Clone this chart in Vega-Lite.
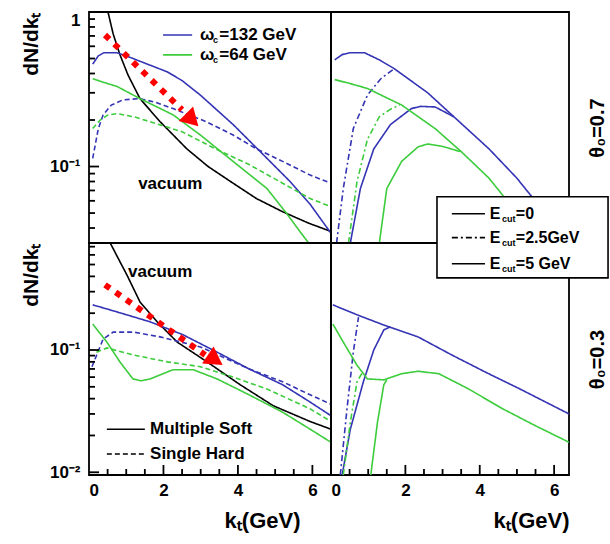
{
"$schema":"https://vega.github.io/schema/vega-lite/v6.json",
"padding":{"left":19,"top":10,"right":2,"bottom":2},
"config":{"font":"Liberation Sans","view":{"stroke":"black","strokeWidth":1.8},
"axis":{"grid":false,"domain":false,"ticks":false,"labelColor":"black","titleColor":"black","labelFontSize":17,"labelFontWeight":"bold","titleFontSize":21,"titleFontWeight":"bold"},
"text":{"fontWeight":"bold"}},
"datasets":{
"curves":[
{"panel":"TL","omega":"vac","type":"soft","kt":0.51,"y":1.0},{"panel":"TL","omega":"vac","type":"soft","kt":0.65,"y":0.72},{"panel":"TL","omega":"vac","type":"soft","kt":0.83,"y":0.53},{"panel":"TL","omega":"vac","type":"soft","kt":1.05,"y":0.39},{"panel":"TL","omega":"vac","type":"soft","kt":1.37,"y":0.275},{"panel":"TL","omega":"vac","type":"soft","kt":1.91,"y":0.195},{"panel":"TL","omega":"vac","type":"soft","kt":2.63,"y":0.13},{"panel":"TL","omega":"vac","type":"soft","kt":3.2,"y":0.1},{"panel":"TL","omega":"vac","type":"soft","kt":3.87,"y":0.078},{"panel":"TL","omega":"vac","type":"soft","kt":4.5,"y":0.062},{"panel":"TL","omega":"vac","type":"soft","kt":5.2,"y":0.051},{"panel":"TL","omega":"vac","type":"soft","kt":5.9,"y":0.043},{"panel":"TL","omega":"vac","type":"soft","kt":6.5,"y":0.038},
{"panel":"TL","omega":"132","type":"soft","kt":0.1,"y":0.46},{"panel":"TL","omega":"132","type":"soft","kt":0.25,"y":0.52},{"panel":"TL","omega":"132","type":"soft","kt":0.4,"y":0.545},{"panel":"TL","omega":"132","type":"soft","kt":0.75,"y":0.545},{"panel":"TL","omega":"132","type":"soft","kt":1.0,"y":0.52},{"panel":"TL","omega":"132","type":"soft","kt":1.37,"y":0.48},{"panel":"TL","omega":"132","type":"soft","kt":2.1,"y":0.41},{"panel":"TL","omega":"132","type":"soft","kt":2.5,"y":0.36},{"panel":"TL","omega":"132","type":"soft","kt":2.99,"y":0.29},{"panel":"TL","omega":"132","type":"soft","kt":3.87,"y":0.187},{"panel":"TL","omega":"132","type":"soft","kt":4.78,"y":0.113},{"panel":"TL","omega":"132","type":"soft","kt":5.4,"y":0.08},{"panel":"TL","omega":"132","type":"soft","kt":5.94,"y":0.057},{"panel":"TL","omega":"132","type":"soft","kt":6.5,"y":0.037},
{"panel":"TL","omega":"132","type":"hard","kt":0.1,"y":0.113},{"panel":"TL","omega":"132","type":"hard","kt":0.25,"y":0.176},{"panel":"TL","omega":"132","type":"hard","kt":0.38,"y":0.216},{"panel":"TL","omega":"132","type":"hard","kt":0.6,"y":0.25},{"panel":"TL","omega":"132","type":"hard","kt":0.91,"y":0.27},{"panel":"TL","omega":"132","type":"hard","kt":1.37,"y":0.275},{"panel":"TL","omega":"132","type":"hard","kt":1.8,"y":0.26},{"panel":"TL","omega":"132","type":"hard","kt":2.26,"y":0.237},{"panel":"TL","omega":"132","type":"hard","kt":3.15,"y":0.195},{"panel":"TL","omega":"132","type":"hard","kt":3.87,"y":0.16},{"panel":"TL","omega":"132","type":"hard","kt":4.5,"y":0.13},{"panel":"TL","omega":"132","type":"hard","kt":5.2,"y":0.108},{"panel":"TL","omega":"132","type":"hard","kt":5.94,"y":0.088},{"panel":"TL","omega":"132","type":"hard","kt":6.5,"y":0.078},
{"panel":"TL","omega":"64","type":"soft","kt":0.1,"y":0.37},{"panel":"TL","omega":"64","type":"soft","kt":0.4,"y":0.35},{"panel":"TL","omega":"64","type":"soft","kt":0.75,"y":0.33},{"panel":"TL","omega":"64","type":"soft","kt":1.37,"y":0.275},{"panel":"TL","omega":"64","type":"soft","kt":2.26,"y":0.216},{"panel":"TL","omega":"64","type":"soft","kt":2.99,"y":0.16},{"panel":"TL","omega":"64","type":"soft","kt":3.87,"y":0.108},{"panel":"TL","omega":"64","type":"soft","kt":4.78,"y":0.072},{"panel":"TL","omega":"64","type":"soft","kt":5.3,"y":0.05},{"panel":"TL","omega":"64","type":"soft","kt":5.7,"y":0.037},{"panel":"TL","omega":"64","type":"soft","kt":5.9,"y":0.032},
{"panel":"TL","omega":"64","type":"hard","kt":0.1,"y":0.176},{"panel":"TL","omega":"64","type":"hard","kt":0.3,"y":0.2},{"panel":"TL","omega":"64","type":"hard","kt":0.5,"y":0.215},{"panel":"TL","omega":"64","type":"hard","kt":0.75,"y":0.22},{"panel":"TL","omega":"64","type":"hard","kt":1.2,"y":0.21},{"panel":"TL","omega":"64","type":"hard","kt":1.64,"y":0.195},{"panel":"TL","omega":"64","type":"hard","kt":2.5,"y":0.168},{"panel":"TL","omega":"64","type":"hard","kt":3.4,"y":0.13},{"panel":"TL","omega":"64","type":"hard","kt":4.3,"y":0.103},{"panel":"TL","omega":"64","type":"hard","kt":5.2,"y":0.078},{"panel":"TL","omega":"64","type":"hard","kt":5.94,"y":0.062},{"panel":"TL","omega":"64","type":"hard","kt":6.5,"y":0.055},
{"panel":"TR","omega":"132","type":"E0","kt":0.1,"y":0.49},{"panel":"TR","omega":"132","type":"E0","kt":0.3,"y":0.53},{"panel":"TR","omega":"132","type":"E0","kt":0.5,"y":0.545},{"panel":"TR","omega":"132","type":"E0","kt":0.9,"y":0.545},{"panel":"TR","omega":"132","type":"E0","kt":1.3,"y":0.49},{"panel":"TR","omega":"132","type":"E0","kt":1.7,"y":0.43},{"panel":"TR","omega":"132","type":"E0","kt":2.6,"y":0.3},{"panel":"TR","omega":"132","type":"E0","kt":3.4,"y":0.2},{"panel":"TR","omega":"132","type":"E0","kt":4.25,"y":0.13},{"panel":"TR","omega":"132","type":"E0","kt":5.0,"y":0.084},{"panel":"TR","omega":"132","type":"E0","kt":5.35,"y":0.066},{"panel":"TR","omega":"132","type":"E0","kt":5.9,"y":0.046},{"panel":"TR","omega":"132","type":"E0","kt":6.4,"y":0.034},
{"panel":"TR","omega":"132","type":"E25","kt":0.15,"y":0.032},{"panel":"TR","omega":"132","type":"E25","kt":0.33,"y":0.072},{"panel":"TR","omega":"132","type":"E25","kt":0.6,"y":0.176},{"panel":"TR","omega":"132","type":"E25","kt":0.98,"y":0.29},{"panel":"TR","omega":"132","type":"E25","kt":1.34,"y":0.37},{"panel":"TR","omega":"132","type":"E25","kt":1.7,"y":0.43},
{"panel":"TR","omega":"132","type":"E5","kt":0.52,"y":0.032},{"panel":"TR","omega":"132","type":"E5","kt":0.79,"y":0.072},{"panel":"TR","omega":"132","type":"E5","kt":1.15,"y":0.13},{"panel":"TR","omega":"132","type":"E5","kt":1.6,"y":0.187},{"panel":"TR","omega":"132","type":"E5","kt":2.16,"y":0.237},{"panel":"TR","omega":"132","type":"E5","kt":2.4,"y":0.245},{"panel":"TR","omega":"132","type":"E5","kt":2.8,"y":0.243},{"panel":"TR","omega":"132","type":"E5","kt":3.3,"y":0.21},
{"panel":"TR","omega":"64","type":"E0","kt":0.1,"y":0.365},{"panel":"TR","omega":"64","type":"E0","kt":0.5,"y":0.345},{"panel":"TR","omega":"64","type":"E0","kt":0.98,"y":0.32},{"panel":"TR","omega":"64","type":"E0","kt":1.9,"y":0.25},{"panel":"TR","omega":"64","type":"E0","kt":2.8,"y":0.176},{"panel":"TR","omega":"64","type":"E0","kt":3.5,"y":0.125},{"panel":"TR","omega":"64","type":"E0","kt":4.25,"y":0.084},{"panel":"TR","omega":"64","type":"E0","kt":4.6,"y":0.066},{"panel":"TR","omega":"64","type":"E0","kt":5.4,"y":0.038},{"panel":"TR","omega":"64","type":"E0","kt":5.6,"y":0.033},
{"panel":"TR","omega":"64","type":"E25","kt":0.47,"y":0.032},{"panel":"TR","omega":"64","type":"E25","kt":0.7,"y":0.08},{"panel":"TR","omega":"64","type":"E25","kt":0.98,"y":0.15},{"panel":"TR","omega":"64","type":"E25","kt":1.3,"y":0.21},{"panel":"TR","omega":"64","type":"E25","kt":1.6,"y":0.235},{"panel":"TR","omega":"64","type":"E25","kt":1.85,"y":0.25},
{"panel":"TR","omega":"64","type":"E5","kt":1.3,"y":0.032},{"panel":"TR","omega":"64","type":"E5","kt":1.5,"y":0.072},{"panel":"TR","omega":"64","type":"E5","kt":1.9,"y":0.108},{"panel":"TR","omega":"64","type":"E5","kt":2.34,"y":0.134},{"panel":"TR","omega":"64","type":"E5","kt":2.6,"y":0.14},{"panel":"TR","omega":"64","type":"E5","kt":3.0,"y":0.135},{"panel":"TR","omega":"64","type":"E5","kt":3.47,"y":0.125},
{"panel":"BL","omega":"vac","type":"soft","kt":0.57,"y":0.75},{"panel":"BL","omega":"vac","type":"soft","kt":0.8,"y":0.55},{"panel":"BL","omega":"vac","type":"soft","kt":1.02,"y":0.41},{"panel":"BL","omega":"vac","type":"soft","kt":1.37,"y":0.247},{"panel":"BL","omega":"vac","type":"soft","kt":1.83,"y":0.17},{"panel":"BL","omega":"vac","type":"soft","kt":2.37,"y":0.116},{"panel":"BL","omega":"vac","type":"soft","kt":3.17,"y":0.08},{"panel":"BL","omega":"vac","type":"soft","kt":4.06,"y":0.052},{"panel":"BL","omega":"vac","type":"soft","kt":4.95,"y":0.035},{"panel":"BL","omega":"vac","type":"soft","kt":5.94,"y":0.026},{"panel":"BL","omega":"vac","type":"soft","kt":6.5,"y":0.0225},
{"panel":"BL","omega":"132","type":"soft","kt":0.1,"y":0.234},{"panel":"BL","omega":"132","type":"soft","kt":0.75,"y":0.205},{"panel":"BL","omega":"132","type":"soft","kt":1.64,"y":0.17},{"panel":"BL","omega":"132","type":"soft","kt":2.53,"y":0.133},{"panel":"BL","omega":"132","type":"soft","kt":3.44,"y":0.096},{"panel":"BL","omega":"132","type":"soft","kt":4.3,"y":0.07},{"panel":"BL","omega":"132","type":"soft","kt":5.2,"y":0.052},{"panel":"BL","omega":"132","type":"soft","kt":5.94,"y":0.0375},{"panel":"BL","omega":"132","type":"soft","kt":6.5,"y":0.029},
{"panel":"BL","omega":"132","type":"hard","kt":0.08,"y":0.073},{"panel":"BL","omega":"132","type":"hard","kt":0.38,"y":0.123},{"panel":"BL","omega":"132","type":"hard","kt":0.65,"y":0.14},{"panel":"BL","omega":"132","type":"hard","kt":1.2,"y":0.14},{"panel":"BL","omega":"132","type":"hard","kt":1.91,"y":0.128},{"panel":"BL","omega":"132","type":"hard","kt":2.99,"y":0.106},{"panel":"BL","omega":"132","type":"hard","kt":4.3,"y":0.07},{"panel":"BL","omega":"132","type":"hard","kt":5.2,"y":0.055},{"panel":"BL","omega":"132","type":"hard","kt":5.94,"y":0.043},{"panel":"BL","omega":"132","type":"hard","kt":6.5,"y":0.036},
{"panel":"BL","omega":"64","type":"soft","kt":0.1,"y":0.163},{"panel":"BL","omega":"64","type":"soft","kt":0.48,"y":0.116},{"panel":"BL","omega":"64","type":"soft","kt":0.83,"y":0.08},{"panel":"BL","omega":"64","type":"soft","kt":1.18,"y":0.058},{"panel":"BL","omega":"64","type":"soft","kt":1.4,"y":0.056},{"panel":"BL","omega":"64","type":"soft","kt":1.64,"y":0.058},{"panel":"BL","omega":"64","type":"soft","kt":2.26,"y":0.069},{"panel":"BL","omega":"64","type":"soft","kt":2.8,"y":0.069},{"panel":"BL","omega":"64","type":"soft","kt":3.44,"y":0.058},{"panel":"BL","omega":"64","type":"soft","kt":4.3,"y":0.043},{"panel":"BL","omega":"64","type":"soft","kt":5.2,"y":0.031},{"panel":"BL","omega":"64","type":"soft","kt":5.94,"y":0.0225},{"panel":"BL","omega":"64","type":"soft","kt":6.5,"y":0.0176},
{"panel":"BL","omega":"64","type":"hard","kt":0.2,"y":0.096},{"panel":"BL","omega":"64","type":"hard","kt":0.48,"y":0.104},{"panel":"BL","omega":"64","type":"hard","kt":1.2,"y":0.091},{"panel":"BL","omega":"64","type":"hard","kt":2.1,"y":0.08},{"panel":"BL","omega":"64","type":"hard","kt":2.99,"y":0.073},{"panel":"BL","omega":"64","type":"hard","kt":3.87,"y":0.06},{"panel":"BL","omega":"64","type":"hard","kt":4.78,"y":0.048},{"panel":"BL","omega":"64","type":"hard","kt":5.94,"y":0.033},{"panel":"BL","omega":"64","type":"hard","kt":6.5,"y":0.026},
{"panel":"BR","omega":"132","type":"E0","kt":0.05,"y":0.234},{"panel":"BR","omega":"132","type":"E0","kt":0.7,"y":0.194},{"panel":"BR","omega":"132","type":"E0","kt":1.42,"y":0.16},{"panel":"BR","omega":"132","type":"E0","kt":2.34,"y":0.128},{"panel":"BR","omega":"132","type":"E0","kt":3.25,"y":0.091},{"panel":"BR","omega":"132","type":"E0","kt":4.15,"y":0.066},{"panel":"BR","omega":"132","type":"E0","kt":5.08,"y":0.048},{"panel":"BR","omega":"132","type":"E0","kt":6.4,"y":0.03},
{"panel":"BR","omega":"132","type":"E25","kt":0.25,"y":0.0095},{"panel":"BR","omega":"132","type":"E25","kt":0.43,"y":0.033},{"panel":"BR","omega":"132","type":"E25","kt":0.6,"y":0.096},{"panel":"BR","omega":"132","type":"E25","kt":0.74,"y":0.186},
{"panel":"BR","omega":"132","type":"E5","kt":0.3,"y":0.0095},{"panel":"BR","omega":"132","type":"E5","kt":0.52,"y":0.0225},{"panel":"BR","omega":"132","type":"E5","kt":0.87,"y":0.055},{"panel":"BR","omega":"132","type":"E5","kt":1.15,"y":0.1},{"panel":"BR","omega":"132","type":"E5","kt":1.42,"y":0.146},{"panel":"BR","omega":"132","type":"E5","kt":1.6,"y":0.155},
{"panel":"BR","omega":"64","type":"E0","kt":0.05,"y":0.163},{"panel":"BR","omega":"64","type":"E0","kt":0.33,"y":0.116},{"panel":"BR","omega":"64","type":"E0","kt":0.7,"y":0.075},{"panel":"BR","omega":"64","type":"E0","kt":0.98,"y":0.058},{"panel":"BR","omega":"64","type":"E0","kt":1.42,"y":0.057},{"panel":"BR","omega":"64","type":"E0","kt":1.9,"y":0.064},{"panel":"BR","omega":"64","type":"E0","kt":2.34,"y":0.067},{"panel":"BR","omega":"64","type":"E0","kt":2.9,"y":0.064},{"panel":"BR","omega":"64","type":"E0","kt":3.7,"y":0.048},{"panel":"BR","omega":"64","type":"E0","kt":4.62,"y":0.033},{"panel":"BR","omega":"64","type":"E0","kt":5.5,"y":0.024},{"panel":"BR","omega":"64","type":"E0","kt":6.4,"y":0.0176},
{"panel":"BR","omega":"64","type":"E25","kt":0.33,"y":0.0095},{"panel":"BR","omega":"64","type":"E25","kt":0.52,"y":0.0257},{"panel":"BR","omega":"64","type":"E25","kt":0.7,"y":0.055},{"panel":"BR","omega":"64","type":"E25","kt":0.85,"y":0.066},
{"panel":"BR","omega":"64","type":"E5","kt":1.07,"y":0.0095},{"panel":"BR","omega":"64","type":"E5","kt":1.25,"y":0.0257},{"panel":"BR","omega":"64","type":"E5","kt":1.42,"y":0.052},{"panel":"BR","omega":"64","type":"E5","kt":1.5,"y":0.057}
],
"keys":[
{"panel":"TL","omega":"132","type":"soft","kt":1.99,"y":0.71},{"panel":"TL","omega":"132","type":"soft","kt":2.77,"y":0.71},
{"panel":"TL","omega":"64","type":"soft","kt":1.99,"y":0.528},{"panel":"TL","omega":"64","type":"soft","kt":2.77,"y":0.528},
{"panel":"BL","omega":"vac","type":"soft","kt":0.48,"y":0.0225},{"panel":"BL","omega":"vac","type":"soft","kt":1.5,"y":0.0225},
{"panel":"BL","omega":"vac","type":"hard","kt":0.48,"y":0.0141},{"panel":"BL","omega":"vac","type":"hard","kt":1.5,"y":0.0141},
{"panel":"BR","omega":"vac","type":"E0","kt":3.25,"y":1.30},{"panel":"BR","omega":"vac","type":"E0","kt":4.14,"y":1.30},
{"panel":"BR","omega":"vac","type":"E25","kt":3.25,"y":0.83},{"panel":"BR","omega":"vac","type":"E25","kt":4.14,"y":0.83},
{"panel":"BR","omega":"vac","type":"E5","kt":3.25,"y":0.507},{"panel":"BR","omega":"vac","type":"E5","kt":4.14,"y":0.507}
],
"tl":[
{"panel":"TL","id":"a1","kt":0,"y":0.04},{"panel":"TL","id":"a1","kt":0.161,"y":0.04},
{"panel":"TL","id":"a2","kt":0,"y":0.05},{"panel":"TL","id":"a2","kt":0.161,"y":0.05},
{"panel":"TL","id":"a3","kt":0,"y":0.06},{"panel":"TL","id":"a3","kt":0.161,"y":0.06},
{"panel":"TL","id":"a4","kt":0,"y":0.07},{"panel":"TL","id":"a4","kt":0.161,"y":0.07},
{"panel":"TL","id":"a5","kt":0,"y":0.08},{"panel":"TL","id":"a5","kt":0.161,"y":0.08},
{"panel":"TL","id":"a6","kt":0,"y":0.09},{"panel":"TL","id":"a6","kt":0.161,"y":0.09},
{"panel":"TL","id":"a7","kt":0,"y":0.1},{"panel":"TL","id":"a7","kt":0.27,"y":0.1},
{"panel":"TL","id":"a8","kt":0,"y":0.2},{"panel":"TL","id":"a8","kt":0.161,"y":0.2},
{"panel":"TL","id":"a9","kt":0,"y":0.3},{"panel":"TL","id":"a9","kt":0.161,"y":0.3},
{"panel":"TL","id":"a10","kt":0,"y":0.4},{"panel":"TL","id":"a10","kt":0.161,"y":0.4},
{"panel":"TL","id":"a11","kt":0,"y":0.5},{"panel":"TL","id":"a11","kt":0.161,"y":0.5},
{"panel":"TL","id":"a12","kt":0,"y":0.6},{"panel":"TL","id":"a12","kt":0.161,"y":0.6},
{"panel":"TL","id":"a13","kt":0,"y":0.7},{"panel":"TL","id":"a13","kt":0.161,"y":0.7},
{"panel":"TL","id":"a14","kt":0,"y":0.8},{"panel":"TL","id":"a14","kt":0.161,"y":0.8},
{"panel":"TL","id":"a15","kt":0,"y":0.9},{"panel":"TL","id":"a15","kt":0.161,"y":0.9},
{"panel":"BL","id":"b1","kt":0,"y":0.01},{"panel":"BL","id":"b1","kt":0.27,"y":0.01},
{"panel":"BL","id":"b2","kt":0,"y":0.02},{"panel":"BL","id":"b2","kt":0.161,"y":0.02},
{"panel":"BL","id":"b3","kt":0,"y":0.03},{"panel":"BL","id":"b3","kt":0.161,"y":0.03},
{"panel":"BL","id":"b4","kt":0,"y":0.04},{"panel":"BL","id":"b4","kt":0.161,"y":0.04},
{"panel":"BL","id":"b5","kt":0,"y":0.05},{"panel":"BL","id":"b5","kt":0.161,"y":0.05},
{"panel":"BL","id":"b6","kt":0,"y":0.06},{"panel":"BL","id":"b6","kt":0.161,"y":0.06},
{"panel":"BL","id":"b7","kt":0,"y":0.07},{"panel":"BL","id":"b7","kt":0.161,"y":0.07},
{"panel":"BL","id":"b8","kt":0,"y":0.08},{"panel":"BL","id":"b8","kt":0.161,"y":0.08},
{"panel":"BL","id":"b9","kt":0,"y":0.09},{"panel":"BL","id":"b9","kt":0.161,"y":0.09},
{"panel":"BL","id":"b10","kt":0,"y":0.1},{"panel":"BL","id":"b10","kt":0.27,"y":0.1},
{"panel":"BL","id":"b11","kt":0,"y":0.2},{"panel":"BL","id":"b11","kt":0.161,"y":0.2},
{"panel":"BL","id":"b12","kt":0,"y":0.3},{"panel":"BL","id":"b12","kt":0.161,"y":0.3},
{"panel":"BL","id":"b13","kt":0,"y":0.4},{"panel":"BL","id":"b13","kt":0.161,"y":0.4},
{"panel":"BL","id":"b14","kt":0,"y":0.5},{"panel":"BL","id":"b14","kt":0.161,"y":0.5},
{"panel":"BL","id":"b15","kt":0,"y":0.6},{"panel":"BL","id":"b15","kt":0.161,"y":0.6},
{"panel":"BL","id":"b16","kt":0,"y":0.7},{"panel":"BL","id":"b16","kt":0.161,"y":0.7},
{"panel":"BL","id":"c1","kt":0.5,"y":0.0095},{"panel":"BL","id":"c1","kt":0.5,"y":0.01064},
{"panel":"BL","id":"c2","kt":1,"y":0.0095},{"panel":"BL","id":"c2","kt":1,"y":0.01064},
{"panel":"BL","id":"c3","kt":1.5,"y":0.0095},{"panel":"BL","id":"c3","kt":1.5,"y":0.01064},
{"panel":"BL","id":"c4","kt":2,"y":0.0095},{"panel":"BL","id":"c4","kt":2,"y":0.01148},
{"panel":"BL","id":"c5","kt":2.5,"y":0.0095},{"panel":"BL","id":"c5","kt":2.5,"y":0.01064},
{"panel":"BL","id":"c6","kt":3,"y":0.0095},{"panel":"BL","id":"c6","kt":3,"y":0.01064},
{"panel":"BL","id":"c7","kt":3.5,"y":0.0095},{"panel":"BL","id":"c7","kt":3.5,"y":0.01064},
{"panel":"BL","id":"c8","kt":4,"y":0.0095},{"panel":"BL","id":"c8","kt":4,"y":0.01148},
{"panel":"BL","id":"c9","kt":4.5,"y":0.0095},{"panel":"BL","id":"c9","kt":4.5,"y":0.01064},
{"panel":"BL","id":"c10","kt":5,"y":0.0095},{"panel":"BL","id":"c10","kt":5,"y":0.01064},
{"panel":"BL","id":"c11","kt":5.5,"y":0.0095},{"panel":"BL","id":"c11","kt":5.5,"y":0.01064},
{"panel":"BL","id":"c12","kt":6,"y":0.0095},{"panel":"BL","id":"c12","kt":6,"y":0.01148},
{"panel":"BR","id":"d1","kt":0.5,"y":0.0095},{"panel":"BR","id":"d1","kt":0.5,"y":0.01064},
{"panel":"BR","id":"d2","kt":1,"y":0.0095},{"panel":"BR","id":"d2","kt":1,"y":0.01064},
{"panel":"BR","id":"d3","kt":1.5,"y":0.0095},{"panel":"BR","id":"d3","kt":1.5,"y":0.01064},
{"panel":"BR","id":"d4","kt":2,"y":0.0095},{"panel":"BR","id":"d4","kt":2,"y":0.01148},
{"panel":"BR","id":"d5","kt":2.5,"y":0.0095},{"panel":"BR","id":"d5","kt":2.5,"y":0.01064},
{"panel":"BR","id":"d6","kt":3,"y":0.0095},{"panel":"BR","id":"d6","kt":3,"y":0.01064},
{"panel":"BR","id":"d7","kt":3.5,"y":0.0095},{"panel":"BR","id":"d7","kt":3.5,"y":0.01064},
{"panel":"BR","id":"d8","kt":4,"y":0.0095},{"panel":"BR","id":"d8","kt":4,"y":0.01148},
{"panel":"BR","id":"d9","kt":4.5,"y":0.0095},{"panel":"BR","id":"d9","kt":4.5,"y":0.01064},
{"panel":"BR","id":"d10","kt":5,"y":0.0095},{"panel":"BR","id":"d10","kt":5,"y":0.01064},
{"panel":"BR","id":"d11","kt":5.5,"y":0.0095},{"panel":"BR","id":"d11","kt":5.5,"y":0.01064},
{"panel":"BR","id":"d12","kt":6,"y":0.0095},{"panel":"BR","id":"d12","kt":6,"y":0.01148}
],
"ann":[
{"panel":"TL","size":"big","kt":1.32,"y":0.0767,"label":"vacuum"},
{"panel":"TL","size":"big","kt":2.98,"y":0.71,"label":"ω"},{"panel":"TL","size":"sub","kt":3.33,"y":0.659,"label":"c"},{"panel":"TL","size":"big","kt":3.5,"y":0.71,"label":"=132 GeV"},
{"panel":"TL","size":"big","kt":2.98,"y":0.528,"label":"ω"},{"panel":"TL","size":"sub","kt":3.33,"y":0.49,"label":"c"},{"panel":"TL","size":"big","kt":3.5,"y":0.528,"label":"=64 GeV"},
{"panel":"BL","size":"big","kt":1.05,"y":0.435,"label":"vacuum"},
{"panel":"BL","size":"big","kt":1.64,"y":0.0225,"label":"Multiple Soft"},
{"panel":"BL","size":"big","kt":1.64,"y":0.0141,"label":"Single Hard"},
{"panel":"BR","size":"big","kt":4.27,"y":1.30,"label":"E"},{"panel":"BR","size":"sub","kt":4.6,"y":1.18,"label":"cut"},{"panel":"BR","size":"big","kt":4.97,"y":1.30,"label":"=0"},
{"panel":"BR","size":"big","kt":4.27,"y":0.83,"label":"E"},{"panel":"BR","size":"sub","kt":4.6,"y":0.755,"label":"cut"},{"panel":"BR","size":"big","kt":4.97,"y":0.83,"label":"=2.5GeV"},
{"panel":"BR","size":"big","kt":4.27,"y":0.507,"label":"E"},{"panel":"BR","size":"sub","kt":4.6,"y":0.46,"label":"cut"},{"panel":"BR","size":"big","kt":4.97,"y":0.507,"label":"=5 GeV"}
],
"box":[{"panel":"BR","kt":2.85,"kt2":7.45,"y":1.79,"y2":0.389}],
"arrows":[
{"panel":"TL","kt":0.43,"y":0.71},{"panel":"TL","kt":2.5,"y":0.233},
{"panel":"BL","kt":0.43,"y":0.341},{"panel":"BL","kt":3.12,"y":0.091}
],
"heads":[{"panel":"TL","kt":2.77,"y":0.2},{"panel":"BL","kt":3.39,"y":0.0828}]
},
"columns":2,
"spacing":0,
"bounds":"flush",
"concat":[
{
"width":242,"height":231,
"encoding":{
"x":{"field":"kt","type":"quantitative","scale":{"domain":[0,6.5],"nice":false,"zero":false},"axis":null},
"y":{"field":"y","type":"quantitative","scale":{"type":"log","domain":[0.032,1],"nice":false},
"axis":{"title":"dN/dkₜ","titleAnchor":"end","titlePadding":8,"values":[0.1,1],
"labelExpr":"datum.value == 1 ? '1' : '10⁻¹'","labelFlush":true,"labelPadding":9}}
},
"layer":[
{"data":{"name":"curves"},"transform":[{"filter":"datum.panel == 'TL'"}],"mark":{"type":"line","strokeWidth":1.6,"clip":true},
"encoding":{"color":{"field":"omega","type":"nominal","scale":{"domain":["132","64","vac"],"range":["#3434b4","#3ccc3c","#000000"]},"legend":null},
"strokeDash":{"field":"type","type":"nominal","scale":{"domain":["soft","hard","E0","E25","E5"],"range":[[1,0],[5,3],[1,0],[6,3,2,3],[1,0]]},"legend":null}}},
{"data":{"name":"keys"},"transform":[{"filter":"datum.panel == 'TL'"}],"mark":{"type":"line","strokeWidth":1.6},
"encoding":{"color":{"field":"omega","type":"nominal","scale":{"domain":["132","64","vac"],"range":["#3434b4","#3ccc3c","#000000"]},"legend":null},
"strokeDash":{"field":"type","type":"nominal","scale":{"domain":["soft","hard","E0","E25","E5"],"range":[[1,0],[5,3],[1,0],[6,3,2,3],[1,0]]},"legend":null}}},
{"data":{"name":"tl"},"transform":[{"filter":"datum.panel == 'TL'"}],"mark":{"type":"line","strokeWidth":1.8,"color":"black"},
"encoding":{"detail":{"field":"id","type":"nominal"}}},
{"data":{"name":"ann"},"transform":[{"filter":"datum.panel == 'TL' && datum.size == 'big'"}],"mark":{"type":"text","align":"left","baseline":"middle","fontSize":17,"color":"black"},"encoding":{"text":{"field":"label"}}},
{"data":{"name":"ann"},"transform":[{"filter":"datum.panel == 'TL' && datum.size == 'sub'"}],"mark":{"type":"text","align":"left","baseline":"middle","fontSize":9,"color":"black"},"encoding":{"text":{"field":"label"}}},
{"data":{"name":"arrows"},"transform":[{"filter":"datum.panel == 'TL'"}],"mark":{"type":"line","color":"#ff0000","strokeWidth":6,"strokeDash":[6,7],"strokeCap":"butt"},"encoding":{}},
{"data":{"name":"heads"},"transform":[{"filter":"datum.panel == 'TL'"}],"mark":{"type":"point","shape":"triangle-up","filled":true,"color":"#ff0000","opacity":1,"size":420,"angle":135},"encoding":{}}
]
},
{
"width":238,"height":231,
"encoding":{
"x":{"field":"kt","type":"quantitative","scale":{"domain":[0,6.4],"nice":false,"zero":false},"axis":null},
"y":{"field":"y","type":"quantitative","scale":{"type":"log","domain":[0.032,1],"nice":false},
"axis":{"orient":"right","title":"θ₀=0.7","titleAngle":270,"titleFontSize":20,"labels":false,"titlePadding":38}}
},
"layer":[
{"data":{"name":"curves"},"transform":[{"filter":"datum.panel == 'TR'"}],"mark":{"type":"line","strokeWidth":1.6,"clip":true},
"encoding":{"color":{"field":"omega","type":"nominal","scale":{"domain":["132","64","vac"],"range":["#3434b4","#3ccc3c","#000000"]},"legend":null},
"strokeDash":{"field":"type","type":"nominal","scale":{"domain":["soft","hard","E0","E25","E5"],"range":[[1,0],[5,3],[1,0],[6,3,2,3],[1,0]]},"legend":null}}}
]
},
{
"width":242,"height":232,
"encoding":{
"x":{"field":"kt","type":"quantitative","scale":{"domain":[0,6.5],"nice":false,"zero":false},
"axis":{"title":"kₜ(GeV)","titleX":211,"titleAlign":"right","titleFontSize":22,"values":[0,2,4,6],"format":"d","labelPadding":7,"titlePadding":12}},
"y":{"field":"y","type":"quantitative","scale":{"type":"log","domain":[0.0095,0.75],"nice":false},
"axis":{"title":"dN/dkₜ","titleAnchor":"end","titlePadding":8,"values":[0.01,0.1],
"labelExpr":"datum.value == 0.01 ? '10⁻²' : '10⁻¹'","labelPadding":9}}
},
"layer":[
{"data":{"name":"curves"},"transform":[{"filter":"datum.panel == 'BL'"}],"mark":{"type":"line","strokeWidth":1.6,"clip":true},
"encoding":{"color":{"field":"omega","type":"nominal","scale":{"domain":["132","64","vac"],"range":["#3434b4","#3ccc3c","#000000"]},"legend":null},
"strokeDash":{"field":"type","type":"nominal","scale":{"domain":["soft","hard","E0","E25","E5"],"range":[[1,0],[5,3],[1,0],[6,3,2,3],[1,0]]},"legend":null}}},
{"data":{"name":"keys"},"transform":[{"filter":"datum.panel == 'BL'"}],"mark":{"type":"line","strokeWidth":1.6},
"encoding":{"color":{"field":"omega","type":"nominal","scale":{"domain":["132","64","vac"],"range":["#3434b4","#3ccc3c","#000000"]},"legend":null},
"strokeDash":{"field":"type","type":"nominal","scale":{"domain":["soft","hard","E0","E25","E5"],"range":[[1,0],[3,2],[1,0],[6,3,2,3],[1,0]]},"legend":null}}},
{"data":{"name":"tl"},"transform":[{"filter":"datum.panel == 'BL'"}],"mark":{"type":"line","strokeWidth":1.8,"color":"black"},
"encoding":{"detail":{"field":"id","type":"nominal"}}},
{"data":{"name":"ann"},"transform":[{"filter":"datum.panel == 'BL' && datum.size == 'big'"}],"mark":{"type":"text","align":"left","baseline":"middle","fontSize":17,"color":"black"},"encoding":{"text":{"field":"label"}}},
{"data":{"name":"arrows"},"transform":[{"filter":"datum.panel == 'BL'"}],"mark":{"type":"line","color":"#ff0000","strokeWidth":6,"strokeDash":[6,7],"strokeCap":"butt"},"encoding":{}},
{"data":{"name":"heads"},"transform":[{"filter":"datum.panel == 'BL'"}],"mark":{"type":"point","shape":"triangle-up","filled":true,"color":"#ff0000","opacity":1,"size":420,"angle":124},"encoding":{}}
]
},
{
"width":238,"height":232,
"encoding":{
"x":{"field":"kt","type":"quantitative","scale":{"domain":[0,6.4],"nice":false,"zero":false},
"axis":{"title":"kₜ(GeV)","titleAnchor":"end","titleFontSize":22,"values":[0,2,4,6],"format":"d","labelPadding":7,"titlePadding":12}},
"y":{"field":"y","type":"quantitative","scale":{"type":"log","domain":[0.0095,0.75],"nice":false},
"axis":{"orient":"right","title":"θ₀=0.3","titleAngle":270,"titleFontSize":20,"labels":false,"titlePadding":38}}
},
"layer":[
{"data":{"name":"curves"},"transform":[{"filter":"datum.panel == 'BR'"}],"mark":{"type":"line","strokeWidth":1.6,"clip":true},
"encoding":{"color":{"field":"omega","type":"nominal","scale":{"domain":["132","64","vac"],"range":["#3434b4","#3ccc3c","#000000"]},"legend":null},
"strokeDash":{"field":"type","type":"nominal","scale":{"domain":["soft","hard","E0","E25","E5"],"range":[[1,0],[5,3],[1,0],[3,2],[1,0]]},"legend":null}}},
{"data":{"name":"tl"},"transform":[{"filter":"datum.panel == 'BR'"}],"mark":{"type":"line","strokeWidth":1.8,"color":"black"},
"encoding":{"detail":{"field":"id","type":"nominal"}}},
{"data":{"name":"box"},"mark":{"type":"rect","fill":"white","stroke":"black","strokeWidth":1.6},"encoding":{"x2":{"field":"kt2"},"y2":{"field":"y2"}}},
{"data":{"name":"keys"},"transform":[{"filter":"datum.panel == 'BR'"}],"mark":{"type":"line","strokeWidth":1.6},
"encoding":{"color":{"field":"omega","type":"nominal","scale":{"domain":["132","64","vac"],"range":["#3434b4","#3ccc3c","#000000"]},"legend":null},
"strokeDash":{"field":"type","type":"nominal","scale":{"domain":["soft","hard","E0","E25","E5"],"range":[[1,0],[5,3],[1,0],[3,2],[1,0]]},"legend":null}}},
{"data":{"name":"ann"},"transform":[{"filter":"datum.panel == 'BR' && datum.size == 'big'"}],"mark":{"type":"text","align":"left","baseline":"middle","fontSize":16,"color":"black"},"encoding":{"text":{"field":"label"}}},
{"data":{"name":"ann"},"transform":[{"filter":"datum.panel == 'BR' && datum.size == 'sub'"}],"mark":{"type":"text","align":"left","baseline":"middle","fontSize":9,"color":"black"},"encoding":{"text":{"field":"label"}}}
]
}
]
}
